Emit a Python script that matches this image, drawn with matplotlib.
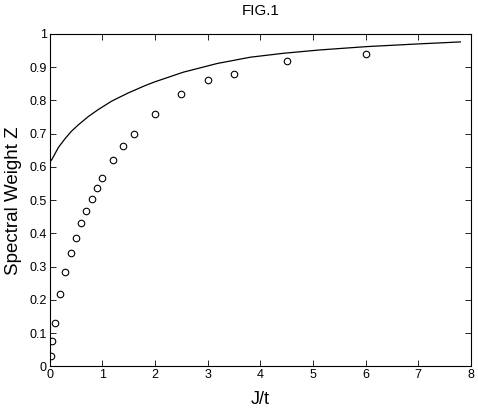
import matplotlib
matplotlib.use("Agg")
import matplotlib.pyplot as plt
import numpy as np

plt.rcParams['font.family'] = ['Liberation Sans', 'DejaVu Sans']

# circles (data points)
j_pts = [0.02, 0.05, 0.1, 0.2, 0.3, 0.4, 0.5, 0.6, 0.7, 0.8, 0.9, 1.0,
         1.2, 1.4, 1.6, 2.0, 2.5, 3.0, 3.5, 4.5, 6.0]
z_pts = [0.03, 0.076, 0.13, 0.217, 0.284, 0.34, 0.385, 0.43, 0.468, 0.503,
         0.538, 0.566, 0.62, 0.663, 0.70, 0.76, 0.82, 0.86, 0.88, 0.92, 0.94]

# solid curve
j_line = [0.0, 0.05, 0.17, 0.3, 0.42, 0.55, 0.74, 0.92, 1.18, 1.5, 1.82,
          2.0, 2.54, 3.18, 3.81, 4.45, 5.14, 6.03, 7.0, 7.8]
z_line = [0.613, 0.624, 0.659, 0.686, 0.708, 0.727, 0.752, 0.772, 0.798, 0.823,
          0.845, 0.856, 0.885, 0.911, 0.93, 0.942, 0.952, 0.962, 0.97, 0.976]

fig = plt.figure(figsize=(4.78, 4.09), dpi=100)
ax = fig.add_axes([0.1036, 0.104, 0.8815, 0.813])

ax.plot(j_line, z_line, color='k', linewidth=0.9)
ax.plot(j_pts, z_pts, linestyle='none', marker='o', markersize=4.7,
        markerfacecolor='none', markeredgecolor='k', markeredgewidth=0.8)

ax.set_xlim(0, 8)
ax.set_ylim(0, 1)
ax.set_xticks(range(0, 9))
yt = [i / 10 for i in range(11)]
ax.set_yticks(yt, labels=['0'] + [f'{v:.1f}' for v in yt[1:-1]] + ['1'])
ax.tick_params(direction='in', top=True, right=True, labelsize=9,
               length=4, width=0.6, pad=2)
for s in ax.spines.values():
    s.set_linewidth(0.8)

ax.set_xlabel("J/t", fontsize=13, labelpad=7)
ax.set_ylabel("Spectral Weight Z", fontsize=13.5, labelpad=5)
ax.set_title("FIG.1", fontsize=11, pad=14)

plt.savefig('out.png', dpi=100)
